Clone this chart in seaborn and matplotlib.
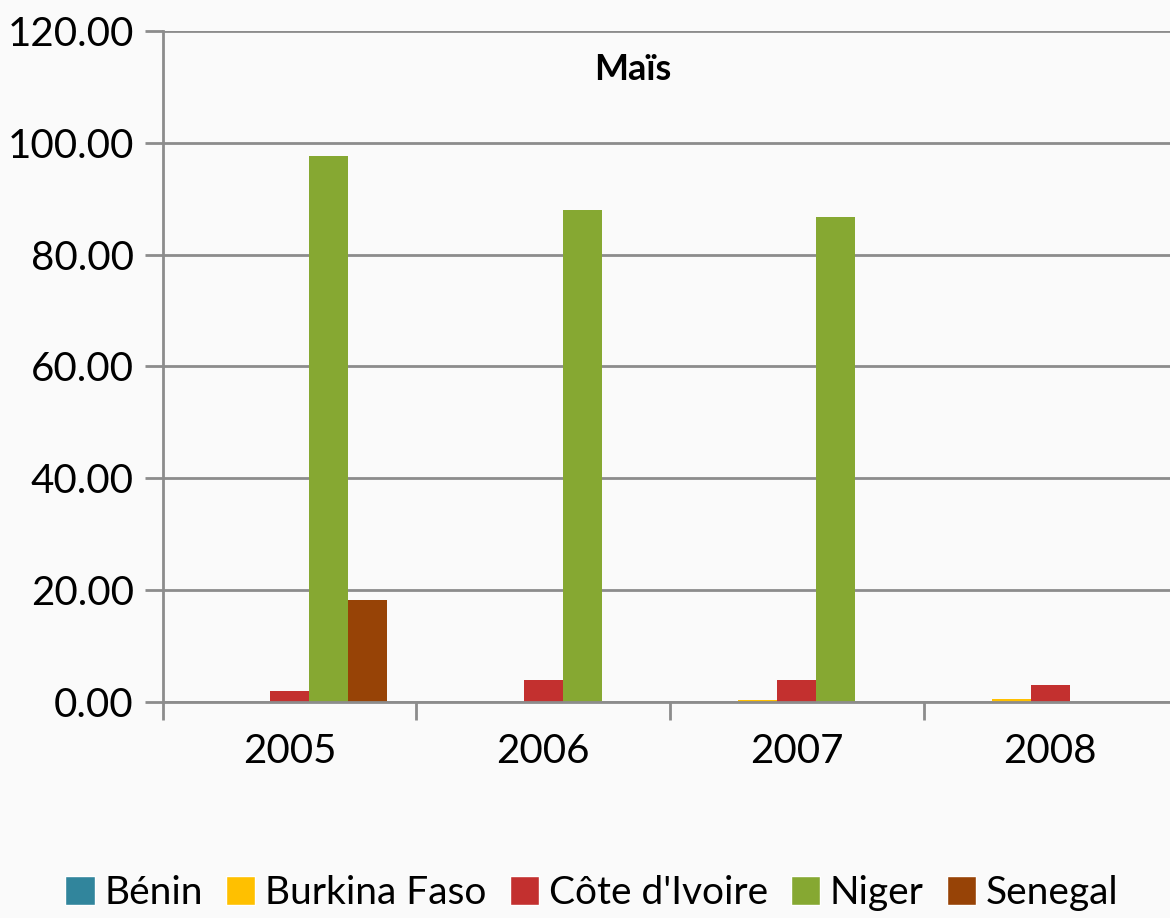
import matplotlib
matplotlib.use("Agg")
import matplotlib.pyplot as plt
import pandas as pd
import seaborn as sns
from matplotlib.patches import Patch

years = ["2005", "2006", "2007", "2008"]
countries = ["Bénin", "Burkina Faso", "Côte d'Ivoire", "Niger", "Senegal"]
benin = [0.0, 0.0, 0.0, 0.0]
burkina = [0.0, 0.0, 0.3, 0.6]
cote = [2.0, 4.0, 4.0, 3.0]
niger = [97.6, 88.0, 86.8, 0.0]
senegal = [18.2, 0.0, 0.0, 0.0]
colors = ["#31859C", "#FFC000", "#C3302F", "#86A832", "#974306"]

series = [benin, burkina, cote, niger, senegal]
rows = []
for name, vals in zip(countries, series):
    for y, v in zip(years, vals):
        rows.append({"Year": y, "Country": name, "Value": v})
df = pd.DataFrame(rows)

sns.set_style("white")
plt.rcParams["font.family"] = ["Lato", "DejaVu Sans"]
plt.rcParams["text.color"] = "black"
plt.rcParams["xtick.labelcolor"] = "black"
plt.rcParams["ytick.labelcolor"] = "black"

fig = plt.figure(figsize=(11.7, 9.18), dpi=100)
fig.patch.set_facecolor("#fafafa")
ax = fig.add_axes([0.1393, 0.2353, 0.8667, 0.731])
ax.set_facecolor("#fafafa")

sns.barplot(data=df, x="Year", y="Value", hue="Country", hue_order=countries,
            palette=colors, width=0.77, saturation=1, ax=ax, legend=False,
            linewidth=0)

ax.set_ylim(0, 120)
ax.set_xlim(-0.5, 3.5)
ax.set_yticks(range(0, 121, 20))
ax.set_yticklabels([f"{v:.2f}" for v in range(0, 121, 20)])
ax.yaxis.grid(True, color="#8c8c8c", linewidth=2)
ax.set_axisbelow(True)
ax.set_xlabel("")
ax.set_ylabel("")

for s in ["top", "right"]:
    ax.spines[s].set_visible(False)
for s in ["left", "bottom"]:
    ax.spines[s].set_color("#8c8c8c")
    ax.spines[s].set_linewidth(2)

ax.tick_params(axis="y", which="major", length=13, width=2, color="#8c8c8c",
               labelsize=29, pad=8, direction="out", left=True)
ax.tick_params(axis="x", which="major", length=0, labelsize=29, pad=22)
ax.set_xticks([-0.5, 0.5, 1.5, 2.5, 3.5], minor=True)
ax.tick_params(axis="x", which="minor", length=13, width=2, color="#8c8c8c",
               direction="out", bottom=True)

fig.text(633 / 1170, 1 - 70 / 918, "Maïs", ha="center", va="center",
         fontsize=26, fontweight="bold")

handles = [Patch(facecolor=c, label=n) for c, n in zip(colors, countries)]
fig.legend(handles=handles, loc="center", bbox_to_anchor=(0.506, 0.027),
           ncol=5, frameon=False, fontsize=28, handlelength=0.75,
           handleheight=0.75, handletextpad=0.25, columnspacing=0.6)

fig.savefig("out.png", dpi=100, facecolor=fig.get_facecolor())
